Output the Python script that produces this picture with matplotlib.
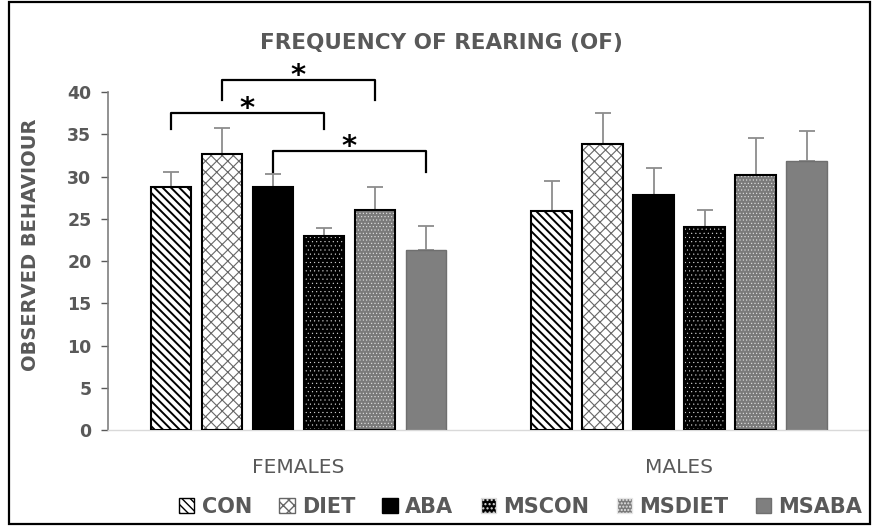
import numpy as np
import matplotlib.pyplot as plt
from matplotlib.patches import Patch, Rectangle

groups = ['FEMALES', 'MALES']
series = ['CON', 'DIET', 'ABA', 'MSCON', 'MSDIET', 'MSABA']
females = [28.8, 32.7, 28.8, 23.0, 26.0, 21.3]
females_err = [1.7, 3.1, 1.5, 0.9, 2.8, 2.8]
males = [25.9, 33.8, 27.8, 24.0, 30.2, 31.8]
males_err = [3.6, 3.7, 3.2, 2.0, 4.4, 3.6]
# significance brackets among female bars: (bar a, bar b, top level, end level)
sig = [(0, 3, 37.5, 35.6), (1, 4, 41.4, 39.0), (2, 5, 33.0, 30.5)]

gray = '#595959'
styles = [
    dict(facecolor='white', hatch='\\\\\\\\', edgecolor='black', hlw=1.4),
    dict(facecolor='white', hatch='xxx', edgecolor='#666666', hlw=0.8),
    dict(facecolor='black', hatch=None, edgecolor='black', hlw=1.0),
    dict(facecolor='black', hatch='....', edgecolor='#dddddd', hlw=0.3),
    dict(facecolor='#7a7a7a', hatch='.....', edgecolor='#e6e6e6', hlw=0.4),
    dict(facecolor='#7f7f7f', hatch=None, edgecolor='#7f7f7f', hlw=1.0),
]
outline = ['black', 'black', 'black', 'black', 'black', '#6f6f6f']

plt.rcParams['font.family'] = ['DejaVu Sans']

fig = plt.figure(figsize=(8.72, 5.26), dpi=100)
ax = fig.add_axes([0.124, 0.1825, 0.873, 0.6425])

x = np.arange(len(groups))
width = 0.107
step = 0.134
vals = np.array([females, males])
errs = np.array([females_err, males_err])
centers = {}
for i, name in enumerate(series):
    pos = x + (i - 2.5) * step
    centers[i] = pos
    st = styles[i]
    with plt.rc_context({'hatch.linewidth': st['hlw']}):
        ax.bar(pos, vals[:, i], width, color=st['facecolor'], hatch=st['hatch'],
               edgecolor=st['edgecolor'], linewidth=0, zorder=2)
    ax.bar(pos, vals[:, i], width, fill=False, edgecolor=outline[i],
           linewidth=1.5 if i != 5 else 1.0, zorder=3)
    ax.errorbar(pos, vals[:, i], yerr=[np.zeros(2), errs[:, i]], fmt='none',
                ecolor='#8c8c8c', elinewidth=1.3, capsize=6, capthick=1.3, zorder=1)

for a, b, top, end in sig:
    xa, xb = centers[a][0], centers[b][0]
    ax.plot([xa, xa, xb, xb], [end, top, top, end], color='black', lw=1.6,
            clip_on=False, solid_joinstyle='round')
    ax.text((xa + xb) / 2, top + 0.5, '*', ha='center', va='center', fontsize=21,
            fontweight='bold', color='black', clip_on=False)

ax.set_xlim(-0.5, 1.5)
ax.set_ylim(0, 40)
ax.set_yticks(range(0, 41, 5))
ax.set_xticks(x)
ax.set_xticklabels(groups, fontsize=14.5, color=gray)
ax.tick_params(axis='x', length=0, pad=20)
ax.tick_params(axis='y', colors=gray, labelsize=12.5, length=5, width=1, pad=7)
for lab in ax.get_yticklabels():
    lab.set_fontweight('bold')
for s in ['top', 'right']:
    ax.spines[s].set_visible(False)
ax.spines['left'].set_color('#7f7f7f')
ax.spines['left'].set_linewidth(1.2)
ax.spines['bottom'].set_color('#d9d9d9')
ax.spines['bottom'].set_linewidth(1.0)

ax.set_ylabel('OBSERVED BEHAVIOUR', fontsize=14, fontweight='bold', color=gray)
ax.yaxis.set_label_coords(-0.09, 0.547)
fig.text(0.506, 0.918, 'FREQUENCY OF REARING (OF)', ha='center', va='center',
         fontsize=15.5, fontweight='bold', color=gray)

handles = []
for i, name in enumerate(series):
    st = styles[i]
    handles.append(Patch(facecolor=st['facecolor'], hatch=st['hatch'],
                         edgecolor=st['edgecolor'] if st['hatch'] else outline[i], label=name))
fig.legend(handles=handles, loc='center', bbox_to_anchor=(0.597, 0.037), ncol=6,
           frameon=False, handlelength=0.75, handleheight=0.75, handletextpad=0.35,
           columnspacing=1.3, prop={'size': 15, 'weight': 'bold'}, labelcolor=gray)

fig.patches.append(Rectangle((0.01, 0.004), 0.988, 0.993, transform=fig.transFigure,
                             fill=False, edgecolor='black', linewidth=1.6))

fig.savefig('out.png', dpi=100)
